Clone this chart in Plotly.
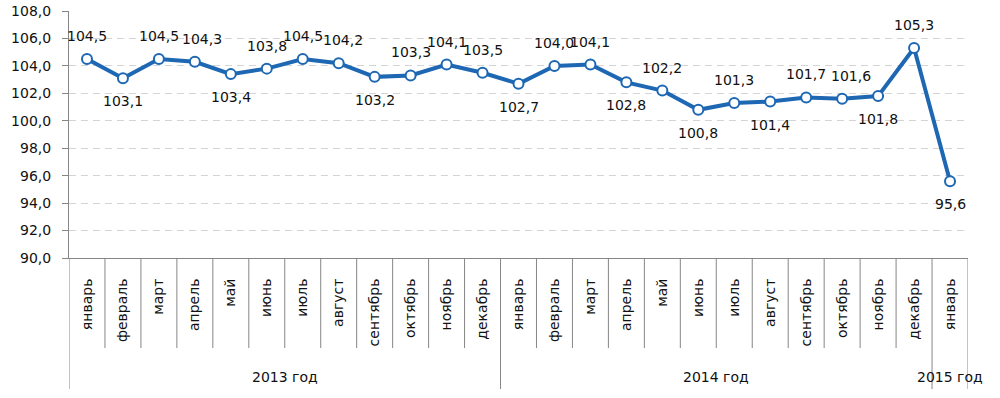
import plotly.graph_objects as go

months = ["январь", "февраль", "март", "апрель", "май", "июнь", "июль", "август",
          "сентябрь", "октябрь", "ноябрь", "декабрь",
          "январь", "февраль", "март", "апрель", "май", "июнь", "июль", "август",
          "сентябрь", "октябрь", "ноябрь", "декабрь",
          "январь"]
values = [104.5, 103.1, 104.5, 104.3, 103.4, 103.8, 104.5, 104.2, 103.2, 103.3, 104.1, 103.5,
          102.7, 104.0, 104.1, 102.8, 102.2, 100.8, 101.3, 101.4, 101.7, 101.6, 101.8, 105.3,
          95.6]
label_side = ["up", "down", "up", "up", "down", "up", "up", "up", "down", "up", "up", "up",
              "down", "up", "up", "down", "up", "down", "up", "down", "up", "up", "down", "up",
              "down"]
years = ["2013 год", "2014 год", "2015 год"]
year_sizes = [12, 12, 1]
y_ticks = [90, 92, 94, 96, 98, 100, 102, 104, 106, 108]

def fmt(v):
    return f"{v:.1f}".replace(".", ",")

x = list(range(len(values)))
blue = "#1D67B3"
grey = "#868686"
FONT = "DejaVu Sans"

fig = go.Figure()
fig.add_trace(go.Scatter(
    x=x, y=values, mode="lines+markers",
    line=dict(color=blue, width=4),
    marker=dict(symbol="circle", size=10, color="white", line=dict(color=blue, width=2)),
    hoverinfo="skip", showlegend=False,
))

xshift = {3: 7, 7: 4, 21: 9}
annotations = []
for i, v in enumerate(values):
    annotations.append(dict(
        x=i, y=v, xref="x", yref="y", text=fmt(v), showarrow=False,
        yshift=23 if label_side[i] == "up" else -23, xshift=xshift.get(i, 0),
        font=dict(family=FONT, size=14, color="#111111"),
    ))

# year group labels and boundaries
shapes = []
y_axis_px = 247.0
short = -90 / y_axis_px
long_ = -131 / y_axis_px
start = 0
boundaries = [-0.5]
for name, n in zip(years, year_sizes):
    center = start + (n - 1) / 2
    annotations.append(dict(
        x=center, y=-119 / y_axis_px, xref="x", yref="paper", text=name, showarrow=False,
        font=dict(family=FONT, size=14, color="#111111"), yanchor="middle",
    ))
    start += n
    boundaries.append(start - 0.5)

for i in range(1, len(values)):
    b = i - 0.5
    if b in boundaries:
        continue
    shapes.append(dict(type="line", xref="x", yref="paper", x0=b, x1=b, y0=0, y1=short,
                       line=dict(color=grey, width=1)))
for b in boundaries:
    shapes.append(dict(type="line", xref="x", yref="paper", x0=b, x1=b, y0=0, y1=long_,
                       line=dict(color=grey, width=1)))

fig.update_layout(
    width=1000, height=398,
    margin=dict(l=69, r=32, t=11, b=140),
    paper_bgcolor="white", plot_bgcolor="white",
    font=dict(family=FONT, size=14, color="#111111"),
    annotations=annotations, shapes=shapes,
    xaxis=dict(
        range=[-0.5, len(values) - 0.5], tickmode="array", tickvals=x, ticktext=months,
        tickangle=-90, ticks="", showgrid=False, zeroline=False, automargin=False,
        showline=True, linecolor=grey, linewidth=1, ticklabelstandoff=14,
        tickfont=dict(family=FONT, size=14, color="#111111"), fixedrange=True,
    ),
    yaxis=dict(
        range=[90, 108], tickmode="array", tickvals=y_ticks, ticktext=[fmt(t) for t in y_ticks],
        ticks="outside", ticklen=6, tickcolor=grey, showline=True, linecolor=grey, linewidth=1,
        showgrid=True, gridcolor="#D4D4D4", griddash="7px,5px", gridwidth=1, zeroline=False,
        automargin=False,
        ticklabelstandoff=8, tickfont=dict(family=FONT, size=14, color="#111111"), fixedrange=True,
    ),
)

fig.write_html("out.html", config={"displayModeBar": False, "staticPlot": True},
               post_script="document.body.style.margin='0';document.body.style.overflow='hidden';")
